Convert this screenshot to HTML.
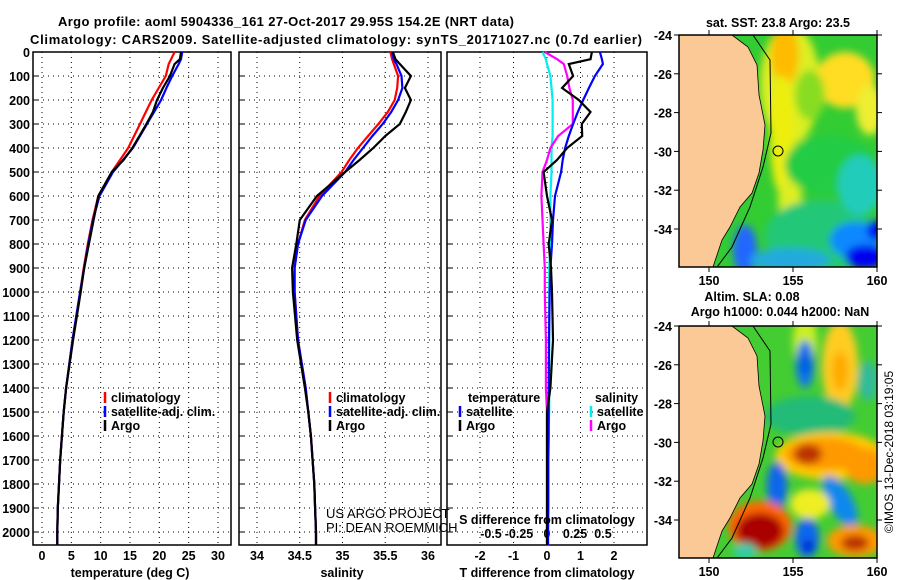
<!DOCTYPE html>
<html><head><meta charset="utf-8"><style>
html,body{margin:0;padding:0;background:#fff;}
svg{display:block;font-family:"Liberation Sans",sans-serif;}
.t{font-weight:bold;font-size:13px;fill:#000;}
.tk{font-weight:bold;font-size:12.5px;fill:#000;}
.g{stroke:#000;stroke-width:1;stroke-dasharray:1 4;fill:none;}
</style></head><body>
<svg id="svg" width="900" height="580" viewBox="0 0 900 580" xmlns="http://www.w3.org/2000/svg">
<text class="t" x="58" y="26" font-size="14.5" textLength="456">Argo profile: aoml 5904336_161 27-Oct-2017 29.95S 154.2E (NRT data)</text>
<text class="t" x="30" y="44" font-size="14.5" textLength="612">Climatology: CARS2009. Satellite-adjusted climatology: synTS_20171027.nc (0.7d earlier)</text>
<g id="plots"></g>
<g id="maps"></g>
</svg>
<script>
// depth grid
const depthLevels = [0,30,50,100,150,200,250,300,350,400,450,500,600,700,800,900,1000,1200,1400,1500,1600,1700,1800,1900,2000,2055];
// temperature (deg C)
const tempClim = [22.6,22.0,21.6,21.1,19.9,18.7,17.7,16.7,15.7,14.7,13.3,11.9,9.6,8.6,7.8,7.1,6.5,5.2,4.1,3.7,3.4,3.1,2.9,2.7,2.6,2.6];
const tempSat  = [23.9,23.7,23.3,22.2,21.2,20.3,19.1,17.9,16.7,15.5,13.8,12.1,9.8,8.7,7.9,7.2,6.5,5.2,4.1,3.7,3.4,3.1,2.9,2.7,2.6,2.6];
const tempArgo = [23.7,23.5,22.6,21.8,20.6,19.6,18.9,17.8,16.6,15.4,13.9,11.9,9.6,8.8,8.0,7.2,6.6,5.3,4.1,3.7,3.4,3.1,2.9,2.7,2.6,2.6];
// salinity
const salClim = [35.56,35.58,35.60,35.65,35.64,35.61,35.53,35.42,35.30,35.18,35.08,34.99,34.73,34.56,34.48,34.44,34.44,34.48,34.57,34.60,34.63,34.65,34.67,34.68,34.69,34.69];
const salSat  = [35.58,35.60,35.63,35.69,35.70,35.65,35.57,35.47,35.35,35.24,35.13,35.03,34.76,34.57,34.48,34.44,34.44,34.48,34.57,34.60,34.63,34.65,34.67,34.68,34.69,34.69];
const salArgo = [35.59,35.62,35.67,35.80,35.73,35.80,35.74,35.67,35.50,35.36,35.20,35.03,34.70,34.50,34.46,34.41,34.42,34.47,34.56,34.60,34.63,34.65,34.67,34.68,34.69,34.69];
// differences from climatology
const tDiffSat  = [1.58,1.64,1.67,1.43,1.25,1.08,0.92,0.78,0.65,0.54,0.47,0.42,0.24,0.18,0.15,0.10,0.08,0.06,0.05,0.05,0.05,0.04,0.04,0.04,0.03,0.03];
const tDiffArgo = [1.34,1.30,0.65,0.78,0.45,0.95,1.30,1.04,1.05,0.60,0.30,-0.10,0.00,0.15,0.05,0.12,0.15,0.18,0.10,0.00,0.00,0.00,0.00,0.00,0.00,0.00];
const sDiffSat  = [-0.04,-0.01,0.00,0.03,0.04,0.05,0.05,0.05,0.05,0.04,0.04,0.04,0.03,0.03,0.03,0.02,0.02,0.02,0.02,0.02,0.01,0.01,0.01,0.01,0.01,0.01];
const sDiffArgo = [-0.02,0.09,0.15,0.18,0.20,0.23,0.23,0.23,0.10,0.03,0.00,-0.04,-0.05,-0.04,-0.03,-0.02,-0.02,-0.01,-0.01,0.00,0.00,0.00,0.00,0.00,0.00,0.00];
// tick labels
const depthTicks = [0,100,200,300,400,500,600,700,800,900,1000,1100,1200,1300,1400,1500,1600,1700,1800,1900,2000];
const tempTicks = [0,5,10,15,20,25,30];
const salTicks = [34,34.5,35,35.5,36];
const tDiffTicks = [-2,-1,0,1,2];
const sDiffTicks = [-0.5,-0.25,0,0.25,0.5];
const latTicks = [-24,-26,-28,-30,-32,-34];
const lonTicks = [150,155,160];

const NS="http://www.w3.org/2000/svg";
const plots=document.getElementById('plots');
const maps=document.getElementById('maps');
function mk(tag,attrs,parent){const e=document.createElementNS(NS,tag);for(const k in attrs)e.setAttribute(k,attrs[k]);(parent||plots).appendChild(e);return e;}
const yD=d=>52+d*0.24;
const PTOP=52,PBOT=545;
const xT=v=>42+v*(176/30);
const xS=v=>257+(v-34)*85.5;
const xTD=v=>547+v*33.5;
const xSD=v=>547+v*112;

function panel(x0,x1,name){
  const r=mk('rect',{x:x0,y:PTOP,width:x1-x0,height:PBOT-PTOP,fill:'none',stroke:'#000','stroke-width':1.5});
  
  
  depthTicks.forEach(d=>{ if(d>0) mk('line',{x1:x0,x2:x1,y1:yD(d),y2:yD(d),class:'g'}); mk('line',{x1:x0,x2:x0+5,y1:yD(d),y2:yD(d),stroke:'#000'});});
}
function vgrid(x0,x1,ticks,fx,ly,name){
  ticks.forEach(v=>{const x=fx(v);
    mk('line',{x1:x,x2:x,y1:PTOP,y2:PBOT,class:'g'});
    const t=mk('text',{x:x,y:ly,'text-anchor':'middle',class:'tk'});t.textContent=String(v);
    
    
  });
}
function series(vals,fx,color,name,w){
  const pts=vals.map((v,i)=>fx(v).toFixed(1)+','+yD(depthLevels[i]).toFixed(1)).join(' ');
  const p=mk('polyline',{points:pts,fill:'none',stroke:color,'stroke-width':w||2.2,'stroke-linejoin':'miter'});
  
  
}
function label(txt,x,y,name,anchor,extra){
  const t=mk('text',Object.assign({x:x,y:y,'text-anchor':anchor||'start',class:'tk'},extra||{}));t.textContent=txt;
  
  
  return t;
}
function legendEntry(x,y,color,txt,name){
  mk('line',{x1:x,x2:x,y1:y-10,y2:y+1,stroke:color,'stroke-width':2.5});
  label(txt,x+6,y,name);
}

// Panel 1: temperature
panel(33,231,'temperature-panel');
vgrid(33,231,tempTicks,xT,560,'temp-tick-label');
depthTicks.forEach(d=>{label(String(d),30,yD(d)+5,'depth-tick-label','end');});
series(tempClim,xT,'#ff0000','temp-climatology-line');
series(tempSat,xT,'#0000ff','temp-satellite-line');
series(tempArgo,xT,'#000000','temp-argo-line');
label('temperature (deg C)',130,577,'temp-x-axis-title','middle');
legendEntry(105,402,'#ff0000','climatology','legend-climatology');
legendEntry(105,416,'#0000ff','satellite-adj. clim.','legend-satellite');
legendEntry(105,430,'#000000','Argo','legend-argo');

// Panel 2: salinity
panel(239,441,'salinity-panel');
vgrid(239,441,salTicks,xS,560,'salinity-tick-label');
series(salClim,xS,'#ff0000','sal-climatology-line');
series(salSat,xS,'#0000ff','sal-satellite-line');
series(salArgo,xS,'#000000','sal-argo-line');
label('salinity',342,577,'salinity-x-axis-title','middle');
legendEntry(330,402,'#ff0000','climatology','legend-climatology-2');
legendEntry(330,416,'#0000ff','satellite-adj. clim.','legend-satellite-2');
legendEntry(330,430,'#000000','Argo','legend-argo-2');
label('US ARGO PROJECT',326,518,'credit-project','start',{style:'font-weight:normal;font-size:13px'});
label('PI: DEAN ROEMMICH',326,532,'credit-pi','start',{style:'font-weight:normal;font-size:13px'});

// Panel 3: differences
panel(447,647,'difference-panel');
vgrid(447,647,tDiffTicks,xTD,560,'tdiff-tick-label');
sDiffTicks.forEach(v=>{label(String(v),xSD(v),538,'sdiff-tick-label','middle');});
series(sDiffSat,xSD,'#00eeee','sdiff-satellite-line');
series(sDiffArgo,xSD,'#ff00ff','sdiff-argo-line');
series(tDiffSat,xTD,'#0000ff','tdiff-satellite-line');
series(tDiffArgo,xTD,'#000000','tdiff-argo-line');
label('S difference from climatology',547,524,'sdiff-axis-title','middle');
label('T difference from climatology',547,577,'tdiff-axis-title','middle');
label('temperature',468,402,'legend-temperature-heading');
legendEntry(460,416,'#0000ff','satellite','legend-t-satellite');
legendEntry(460,430,'#000000','Argo','legend-t-argo');
label('salinity',595,402,'legend-salinity-heading');
legendEntry(591,416,'#00eeee','satellite','legend-s-satellite');
legendEntry(591,430,'#ff00ff','Argo','legend-s-argo');

// Maps
const coast=[[732,0],[748,12],[757,30],[759,60],[765,90],[763,115],[759,138],[752,158],[740,172],[730,192],[722,205],[713,232]];
const shelf=[[753,0],[770,25],[771,98],[763,132],[750,172],[732,212],[717,232]];
function drawMap(y0,name,blobs,base,title){
  const g=mk('g',{},maps);
  
  
  const cid='clip'+y0;
  const cp=mk('clipPath',{id:cid},g);mk('rect',{x:679,y:y0,width:198,height:232},cp);
  const fid='blur'+y0;
  const f=mk('filter',{id:fid,x:'-50%',y:'-50%',width:'200%',height:'200%'},g);mk('feGaussianBlur',{stdDeviation:4},f);
  const inner=mk('g',{'clip-path':'url(#'+cid+')'},g);
  mk('rect',{x:679,y:y0,width:198,height:232,fill:base},inner);
  const bg=mk('g',{filter:'url(#'+fid+')'},inner);
  blobs.forEach(b=>mk('ellipse',{cx:b[0],cy:y0+b[1],rx:b[2],ry:b[3],fill:b[4],transform:'rotate('+(b[5]||0)+' '+b[0]+' '+(y0+b[1])+')'},bg));
  const land='679,'+y0+' '+coast.map(p=>p[0]+','+(y0+p[1])).join(' ')+' 679,'+(y0+232);
  mk('polygon',{points:land,fill:'#fbc995',stroke:'#000','stroke-width':0.8},inner);
  mk('polyline',{points:shelf.map(p=>p[0]+','+(y0+p[1])).join(' '),fill:'none',stroke:'#000','stroke-width':1},inner);
  mk('circle',{cx:778,cy:y0+116,r:5,fill:'none',stroke:'#000','stroke-width':1},inner);
  mk('rect',{x:679,y:y0,width:198,height:232,fill:'none',stroke:'#000','stroke-width':1.5},g);
  latTicks.forEach(v=>{const y=y0+(-24-v)*19.4;
    mk('line',{x1:679,x2:674,y1:y,y2:y,stroke:'#000'},g);mk('line',{x1:877,x2:882,y1:y,y2:y,stroke:'#000'},g);
    const t=mk('text',{x:672,y:y+5,'text-anchor':'end',class:'tk'},g);t.textContent=String(v);
    
    
  });
  lonTicks.forEach(v=>{const x=709+(v-150)*16.8;
    mk('line',{x1:x,x2:x,y1:y0+232,y2:y0+237,stroke:'#000'},g);mk('line',{x1:x,x2:x,y1:y0,y2:y0-5,stroke:'#000'},g);
    const t=mk('text',{x:x,y:y0+250,'text-anchor':'middle',class:'tk'},g);t.textContent=String(v);
    
    
  });
}
drawMap(35,'sst-map',[
  [790,50,30,60,'#ddee22'],[785,20,14,30,'#ffbb00'],[782,100,12,60,'#eeee11'],[790,165,12,25,'#ddee22'],
  [845,45,30,28,'#ffdd22'],[870,75,14,25,'#eeee33'],[810,60,15,25,'#88dd22'],
  [830,130,45,30,'#22cc44'],[820,200,55,35,'#22c877'],[860,150,22,30,'#22ccbb'],
  [855,205,25,18,'#1188ff'],[865,222,20,12,'#0000ee'],[875,195,8,10,'#0000ee'],
  [745,215,12,25,'#2266ff'],[790,225,40,12,'#22aadd']
],'#33cc33');
drawMap(326,'sla-map',[
  [805,15,12,28,'#ccee22'],[840,40,18,45,'#ffcc22'],[840,45,8,20,'#ffaa00'],[805,38,9,24,'#1177ee'],[805,38,4,12,'#0055dd'],[810,90,45,20,'#22bb77'],
  [868,55,10,20,'#33bb99'],
  [830,130,55,24,'#ffcc00'],[825,128,40,16,'#ff9900'],[808,128,14,10,'#bb3300'],[865,140,20,18,'#ff9900'],
  [777,160,10,24,'#1166ee'],[840,175,12,28,'#1188ee',-30],[810,178,20,15,'#eeee22'],
  [760,200,32,25,'#ff6600'],[760,205,24,18,'#aa0000'],[807,212,12,20,'#1166ee'],[808,220,5,6,'#0000cc'],
  [855,215,28,16,'#ff9900'],[855,217,14,8,'#bb3300'],[745,225,12,8,'#33ccaa']
],'#44cc33');
// map titles
[['sat. SST: 23.8 Argo: 23.5',778,27,'sst-map-title'],['Altim. SLA: 0.08',752,301,'sla-map-title'],['Argo h1000: 0.044 h2000: NaN',780,316,'sla-map-subtitle']].forEach(a=>{
  const t=mk('text',{x:a[1],y:a[2],'text-anchor':'middle',class:'tk'},maps);t.textContent=a[0];
  
  
});
const ts=mk('text',{x:893,y:452,'text-anchor':'middle',class:'tk',style:'font-weight:normal;font-size:12px',transform:'rotate(-90 893 452)'},maps);
ts.textContent='©IMOS 13-Dec-2018 03:19:05';


</script>
</body></html>
